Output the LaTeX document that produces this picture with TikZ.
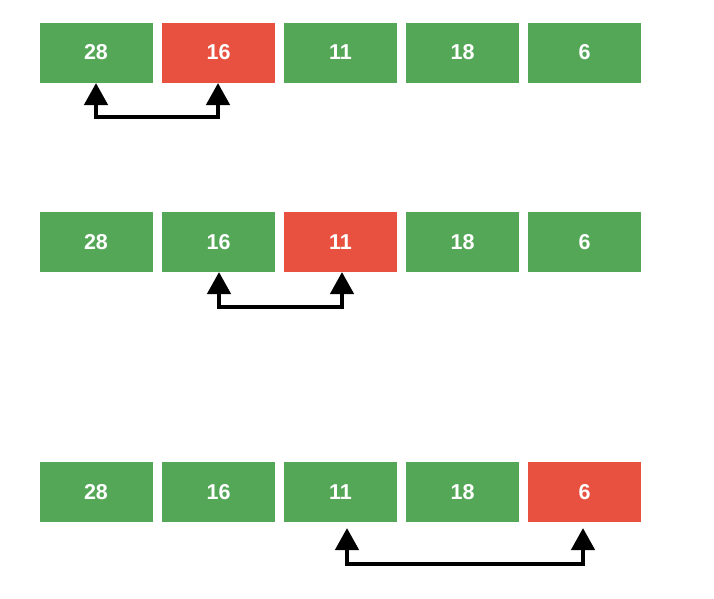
\documentclass[tikz,border=0pt]{standalone}
\usepackage{fontspec}
\setmainfont{Liberation Sans}
\usetikzlibrary{arrows.meta}
\definecolor{gbox}{HTML}{55A758}
\definecolor{rbox}{HTML}{E8503F}
\tikzset{
  cell/.style={minimum width=113pt,minimum height=60pt,inner sep=0pt,text=white,font=\fontsize{21.5}{21.5}\selectfont\bfseries},
  gcell/.style={cell,fill=gbox},
  rcell/.style={cell,fill=rbox},
  swap/.style={line width=4.5pt,{Triangle[width=23pt,length=22pt]}-{Triangle[width=23pt,length=22pt]}}
}
\begin{document}
\begin{tikzpicture}[x=1pt,y=-1pt]
\useasboundingbox (0,0) rectangle (714,598);
% row 1
\node[gcell] (a1) at (96,52.5) {28};
\node[rcell] (a2) at (218.5,52.5) {16};
\node[gcell] (a3) at (340.5,52.5) {11};
\node[gcell] (a4) at (462.5,52.5) {18};
\node[gcell] (a5) at (584.5,52.5) {6};
% row 2
\node[gcell] (b1) at (96,242) {28};
\node[gcell] (b2) at (218.5,242) {16};
\node[rcell] (b3) at (340.5,242) {11};
\node[gcell] (b4) at (462.5,242) {18};
\node[gcell] (b5) at (584.5,242) {6};
% row 3
\node[gcell] (c1) at (96,492) {28};
\node[gcell] (c2) at (218.5,492) {16};
\node[gcell] (c3) at (340.5,492) {11};
\node[gcell] (c4) at (462.5,492) {18};
\node[rcell] (c5) at (584.5,492) {6};
% arrows
\coordinate (ta1) at (96,83);
\coordinate (ta2) at (218,83);
\coordinate (ma) at (96,117);
\draw[swap] (ta1) -- (ma) -| (ta2);
\coordinate (tb1) at (219,272);
\coordinate (tb2) at (342,272);
\coordinate (mb) at (219,307);
\draw[swap] (tb1) -- (mb) -| (tb2);
\coordinate (tc1) at (347,528);
\coordinate (tc2) at (583,528);
\coordinate (mc) at (347,564);
\draw[swap] (tc1) -- (mc) -| (tc2);
\end{tikzpicture}
\end{document}
